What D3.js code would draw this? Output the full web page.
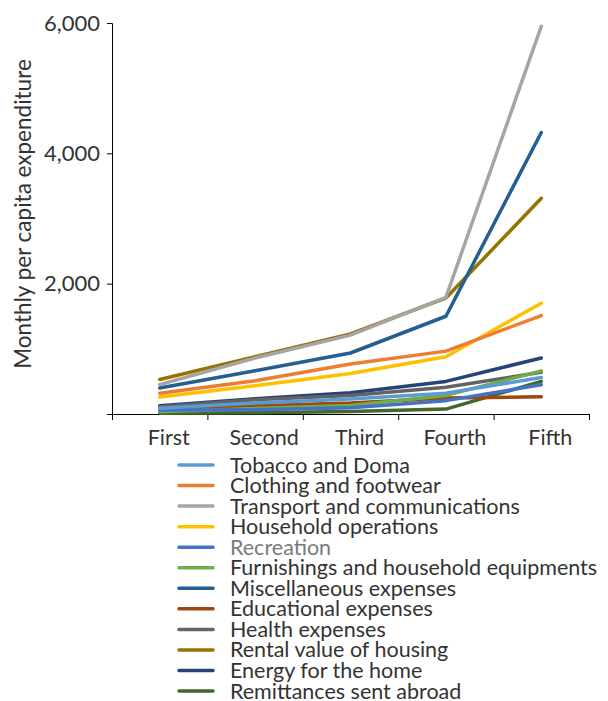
<!DOCTYPE html>
<html>
<head>
<meta charset="utf-8">
<script src="https://cdn.jsdelivr.net/npm/d3@7"></script>
<style>
  html, body { margin: 0; padding: 0; background: #fff; }
  text { font-family: Lato, "Open Sans", sans-serif; }
</style>
</head>
<body>
<svg id="chart" width="608" height="701"></svg>
<script>
const categories = ["First", "Second", "Third", "Fourth", "Fifth"];
const seriesNames = [
  "Tobacco and Doma",
  "Clothing and footwear",
  "Transport and communications",
  "Household operations",
  "Recreation",
  "Furnishings and household equipments",
  "Miscellaneous expenses",
  "Educational expenses",
  "Health expenses",
  "Rental value of housing",
  "Energy for the home",
  "Remittances sent abroad"
];
const tobacco      = [90, 170, 230, 320, 560];
const clothing     = [320, 510, 767, 965, 1510];
const transport    = [450, 860, 1210, 1790, 5950];
const household    = [260, 435, 620, 880, 1700];
const recreation   = [60, 65, 95, 205, 450];
const furnishings  = [35, 85, 130, 285, 660];
const misc         = [400, 665, 936, 1500, 4320];
const educational  = [75, 125, 168, 245, 265];
const health       = [110, 220, 285, 412, 640];
const rental       = [530, 880, 1230, 1780, 3310];
const energy       = [125, 235, 325, 500, 860];
const remittances  = [10, 20, 38, 75, 500];
const yTicks = [0, 2000, 4000, 6000];
const colors = ["#5B9BD5", "#ED7D31", "#A5A5A5", "#FFC000", "#4472C4", "#70AD47",
                "#255E91", "#9E480E", "#636363", "#997300", "#264478", "#43682B"];

(function () {
const seriesValues = [tobacco, clothing, transport, household, recreation, furnishings,
                      misc, educational, health, rental, energy, remittances];
const series = seriesNames.map((name, i) => ({ name, values: seriesValues[i], color: colors[i] }));

const svg = d3.select("#chart");
const mLeft = 112, mRight = 589, mTop = 23, mBottom = 414;

const x = d3.scaleBand().domain(categories).range([mLeft, mRight]).padding(0);
const y = d3.scaleLinear().domain([0, 6000]).range([mBottom, mTop]);

// Y axis
const yAxis = d3.axisLeft(y).tickValues(yTicks).tickSize(5)
  .tickFormat(d => d === 0 ? "" : d3.format(",")(d));
const gy = svg.append("g").attr("transform", `translate(${mLeft},0)`).call(yAxis);
gy.select(".domain").attr("stroke", "#000").attr("stroke-width", 1);
gy.selectAll(".tick line").attr("stroke", "#000");
gy.selectAll(".tick text").attr("font-size", 22).attr("fill", "#333").attr("x", -12);

// X axis: boundary ticks
const xb = d3.scaleLinear().domain([0, categories.length]).range([mLeft, mRight]);
const gx = svg.append("g").attr("transform", `translate(0,${mBottom})`)
  .call(d3.axisBottom(xb).tickValues(d3.range(categories.length + 1)).tickSize(6).tickSizeOuter(6).tickFormat(""));
gx.select(".domain").attr("stroke", "#000").attr("stroke-width", 1);
gx.selectAll(".tick line").attr("stroke", "#000");

svg.append("g").selectAll("text").data(categories).join("text")
  .attr("x", d => x(d) + x.bandwidth() / 2 + 9)
  .attr("y", 445)
  .attr("text-anchor", "middle")
  .attr("font-size", 21.5)
  .attr("fill", "#333")
  .text(d => d);

// Y label
svg.append("text")
  .attr("transform", `translate(31,214) rotate(-90)`)
  .attr("text-anchor", "middle")
  .attr("font-size", 22.5)
  .attr("fill", "#333")
  .text("Monthly per capita expenditure");

// Lines
const line = d3.line()
  .x((d, i) => x(categories[i]) + x.bandwidth() / 2)
  .y(d => y(d));

svg.append("g").selectAll("path").data(series.slice().reverse()).join("path")
  .attr("d", d => line(d.values))
  .attr("fill", "none")
  .attr("stroke", d => d.color)
  .attr("stroke-width", 3.5)
  .attr("stroke-linejoin", "round")
  .attr("stroke-linecap", "round");

// Legend
const rowH = 20.55, y0 = 465;
const rows = svg.append("g").selectAll("g").data(series).join("g")
  .attr("transform", (d, i) => `translate(0,${y0 + i * rowH})`);
rows.append("line")
  .attr("x1", 179).attr("x2", 213).attr("y1", 0).attr("y2", 0)
  .attr("stroke", d => d.color).attr("stroke-width", 3.5).attr("stroke-linecap", "round");
rows.append("text")
  .attr("x", 230).attr("y", 0).attr("dy", "0.35em")
  .attr("font-size", 21.5)
  .attr("fill", d => d.name === "Recreation" ? "#7a7a7a" : "#333")
  .text(d => d.name);
})();
</script>
</body>
</html>
